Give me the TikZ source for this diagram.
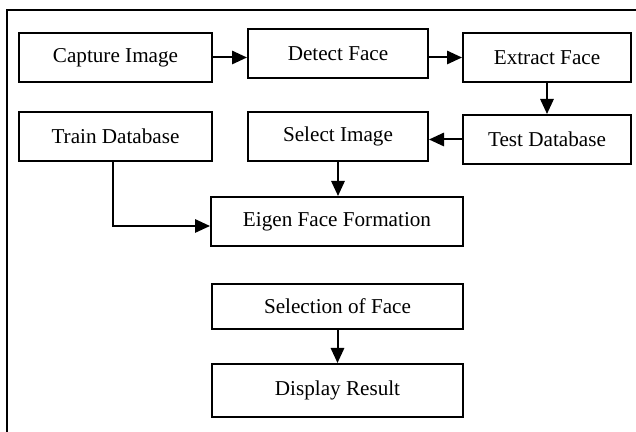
\documentclass[tikz,border=0pt]{standalone}
\usepackage{fontspec}
\setmainfont{Liberation Serif}
\usetikzlibrary{arrows.meta, positioning}
\tikzset{
    stage/.style={rectangle, minimum height=29.4pt, align=center, draw=black, line width=1.2pt, inner sep=0pt, font=\fontsize{12.7}{15}\selectfont},
    arrow/.style={line width=1.2pt, -{Triangle[length=9pt, width=8pt]}},
    frame/.style={draw=black, line width=1pt}
}
\begin{document}
\begin{tikzpicture}[x=0.6pt, y=-0.6pt]
    \useasboundingbox (0,0) rectangle (636,432);
    \clip (0,0) rectangle (636,432);
    \draw [frame] (7,10) rectangle (650,450);

    \node (capture) [stage, minimum width=115.8pt] at (115.5,57.5) {Capture Image};
    \node (detect) [stage, minimum width=108pt] at (338,53.5) {Detect Face};
    \node (extract) [stage, minimum width=100.8pt] at (547,57.5) {Extract Face};
    \node (train) [stage, minimum width=115.8pt] at (115.5,136.5) {Train Database};
    \node (select) [stage, minimum width=108pt] at (338,136.5) {Select Image};
    \node (test) [stage, minimum width=100.8pt] at (547,139.5) {Test Database};
    \node (eigen) [stage, minimum width=151.2pt] at (337,221.5) {Eigen Face Formation};
    \node (choose) [stage, minimum width=150.6pt, minimum height=27pt] at (337.5,306.5) {Selection of Face};
    \node (result) [stage, minimum width=150.6pt, minimum height=31.8pt] at (337.5,390.5) {Display Result};

    \draw [arrow] (capture) -- (capture -| detect.west);
    \draw [arrow] (detect.east |- extract) -- (extract);
    \draw [arrow] (extract) -- (test);
    \draw [arrow] (test.west) -- (test.west -| select.east);
    \draw [arrow] (select.south) -- (select.south |- eigen.north);
    \draw [arrow] ([xshift=-1.5pt]train.south) |- ([yshift=-2.7pt]eigen.west);
    \draw [arrow] (choose) -- (result);
\end{tikzpicture}
\end{document}
